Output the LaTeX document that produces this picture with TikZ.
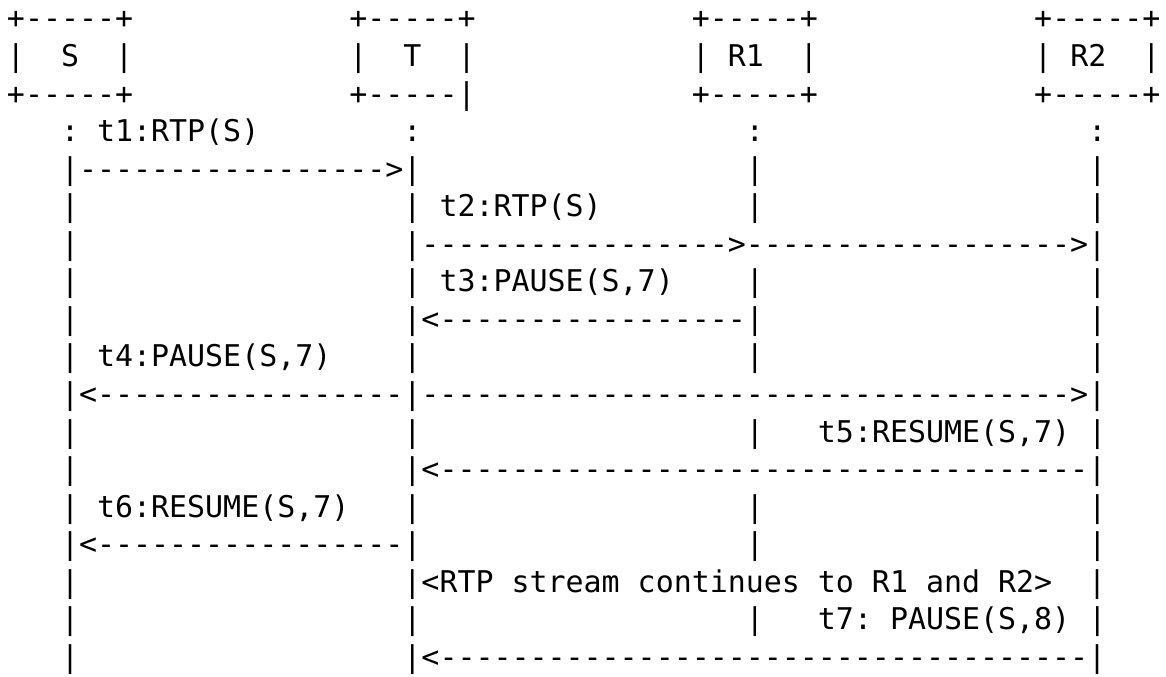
\documentclass[tikz,border=0pt]{standalone}
\usepackage{fontspec}
\usepackage{tikz}
\newfontfamily\asciifont[Ligatures=TeXOff]{DejaVu Sans Mono}
\newcommand\gap[1]{\hspace*{#1\dimexpr0.60205em\relax}}
\newcommand\dashes[1]{\foreach\k in {1,...,#1}{-}}

\begin{document}
\begin{tikzpicture}[x=7.2246pt,y=15.057pt]
\tikzstyle{txt}=[anchor=base west,inner sep=0pt,font=\asciifont\fontsize{12}{15}\selectfont\frenchspacing]
\useasboundingbox (-0.36,0) rectangle (64.34,-18);
% boxes
\node(r1)at(0,-0.77)[txt]{+-----+\gap{12}+-----+\gap{12}+-----+\gap{12}+-----+};
\node(r2)at(0,-1.77)[txt]{|\gap{2}S\gap{2}|\gap{12}|\gap{2}T\gap{2}|\gap{12}|\gap{1}R1\gap{2}|\gap{12}|\gap{1}R2\gap{2}|};
\node(r3)at(0,-2.77)[txt]{+-----+\gap{12}+-----|\gap{12}+-----+\gap{12}+-----+};
% messages
\node(r4)at(0,-3.77)[txt]{\gap{3}:\gap{1}t1:RTP(S)\gap{8}:\gap{18}:\gap{18}:};
\node(r5)at(0,-4.77)[txt]{\gap{3}|\dashes{17}>|\gap{18}|\gap{18}|};
\node(r6)at(0,-5.77)[txt]{\gap{3}|\gap{18}|\gap{1}t2:RTP(S)\gap{8}|\gap{18}|};
\node(r7)at(0,-6.77)[txt]{\gap{3}|\gap{18}|\dashes{17}>\dashes{18}>|};
\node(r8)at(0,-7.77)[txt]{\gap{3}|\gap{18}|\gap{1}t3:PAUSE(S,7)\gap{4}|\gap{18}|};
\node(r9)at(0,-8.77)[txt]{\gap{3}|\gap{18}|<\dashes{17}|\gap{18}|};
\node(r10)at(0,-9.77)[txt]{\gap{3}|\gap{1}t4:PAUSE(S,7)\gap{4}|\gap{18}|\gap{18}|};
\node(r11)at(0,-10.77)[txt]{\gap{3}|<\dashes{17}|\dashes{36}>|};
\node(r12)at(0,-11.77)[txt]{\gap{3}|\gap{18}|\gap{18}|\gap{3}t5:RESUME(S,7)\gap{1}|};
\node(r13)at(0,-12.77)[txt]{\gap{3}|\gap{18}|<\dashes{36}|};
\node(r14)at(0,-13.77)[txt]{\gap{3}|\gap{1}t6:RESUME(S,7)\gap{3}|\gap{18}|\gap{18}|};
\node(r15)at(0,-14.77)[txt]{\gap{3}|<\dashes{17}|\gap{18}|\gap{18}|};
\node(r16)at(0,-15.77)[txt]{\gap{3}|\gap{18}|<RTP stream continues to R1 and R2>\gap{2}|};
\node(r17)at(0,-16.77)[txt]{\gap{3}|\gap{18}|\gap{18}|\gap{3}t7: PAUSE(S,8)\gap{1}|};
\node(r18)at(0,-17.77)[txt]{\gap{3}|\gap{18}|<\dashes{36}|};
\end{tikzpicture}
\end{document}
